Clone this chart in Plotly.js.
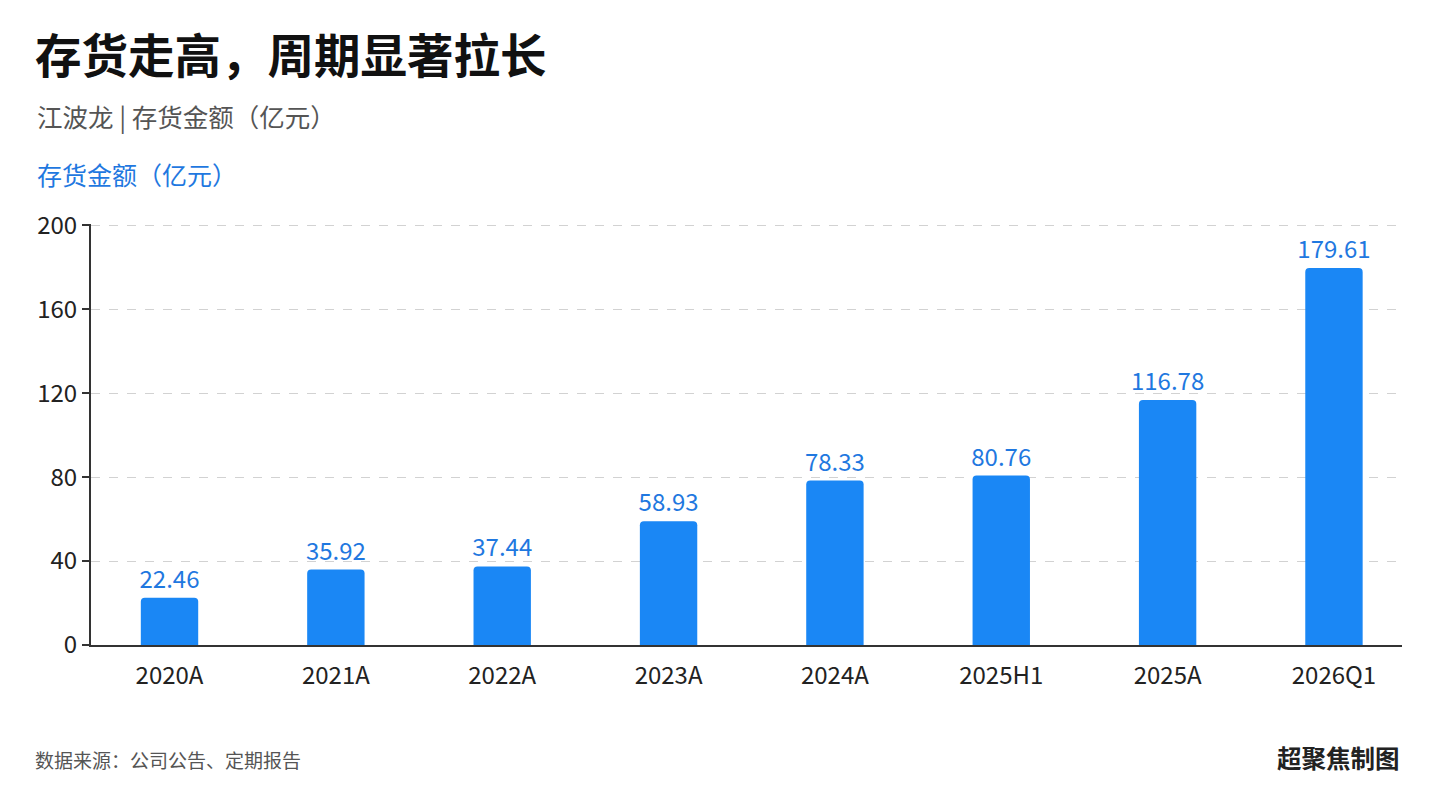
<!DOCTYPE html>
<html>
<head>
<meta charset="utf-8">
<script src="https://cdn.plot.ly/plotly-3.0.1.min.js"></script>
<style>
html,body{margin:0;padding:0;background:#fff;}
#chart{width:1439px;height:810px;}
</style>
</head>
<body>
<div id="chart"></div>
<script>
const categories = ["2020A","2021A","2022A","2023A","2024A","2025H1","2025A","2026Q1"];
const inventory = [22.46, 35.92, 37.44, 58.93, 78.33, 80.76, 116.78, 179.61];
const valueLabels = ["22.46","35.92","37.44","58.93","78.33","80.76","116.78","179.61"];
const yTicks = [0, 40, 80, 120, 160, 200];

const FONT = '"Noto Sans CJK SC", "Noto Sans", sans-serif';
const BLUE = '#1a87f5';
const LABEL_BLUE = '#1f78e0';

const trace = {
  type: 'bar',
  x: categories,
  y: inventory,
  text: valueLabels,
  textposition: 'outside',
  constraintext: 'none',
  cliponaxis: false,
  textfont: {family: FONT, size: 24, color: LABEL_BLUE},
  marker: {color: BLUE, cornerradius: 4},
  width: 0.345,
  hoverinfo: 'x+y'
};

const layout = {
  width: 1439,
  height: 810,
  paper_bgcolor: '#ffffff',
  plot_bgcolor: '#ffffff',
  margin: {l: 91, r: 37, t: 224, b: 165},
  showlegend: false,
  font: {family: FONT, color: '#222'},
  title: {
    text: '<b>存货走高，周期显著拉长</b>',
    font: {family: FONT, size: 46.5, color: '#111'},
    x: 35/1439, xanchor: 'left', xref: 'container',
    y: 1 - 57/810, yanchor: 'middle', yref: 'container'
  },
  xaxis: {
    type: 'category',
    range: [-0.472, 7.409],
    showline: true, linecolor: '#333', linewidth: 2,
    ticks: '', showgrid: false, zeroline: false,
    tickfont: {family: FONT, size: 24, color: '#222'},
    ticklabelstandoff: 8
  },
  yaxis: {
    range: [0, 200.6],
    tickvals: yTicks,
    ticktext: yTicks.map(String),
    showline: true, linecolor: '#333', linewidth: 2,
    ticks: 'outside', ticklen: 7, tickcolor: '#333', tickwidth: 2,
    showgrid: true, gridcolor: '#d2d2d2', griddash: 'dash', gridwidth: 1,
    zeroline: false,
    tickfont: {family: FONT, size: 24, color: '#222'}
  },
  annotations: [
    {
      text: '江波龙 | 存货金额（亿元）',
      xref: 'paper', yref: 'paper',
      x: (35-91)/1311, y: (645-117)/420,
      xanchor: 'left', yanchor: 'middle', showarrow: false,
      font: {family: FONT, size: 25.5, color: '#555'}
    },
    {
      text: '存货金额（亿元）',
      xref: 'paper', yref: 'paper',
      x: (35-91)/1311, y: (645-175)/420,
      xanchor: 'left', yanchor: 'middle', showarrow: false,
      font: {family: FONT, size: 25, color: LABEL_BLUE}
    },
    {
      text: '数据来源：公司公告、定期报告',
      xref: 'paper', yref: 'paper',
      x: (33-91)/1311, y: (645-759)/420,
      xanchor: 'left', yanchor: 'middle', showarrow: false,
      font: {family: FONT, size: 19, color: '#555'}
    },
    {
      text: '<b>超聚焦制图</b>',
      xref: 'paper', yref: 'paper',
      x: 1, y: (645-757)/420,
      xanchor: 'right', yanchor: 'middle', showarrow: false,
      font: {family: FONT, size: 24.5, color: '#222'}
    }
  ]
};

Plotly.newPlot('chart', [trace], layout, {displayModeBar: false, staticPlot: true});
</script>
</body>
</html>
